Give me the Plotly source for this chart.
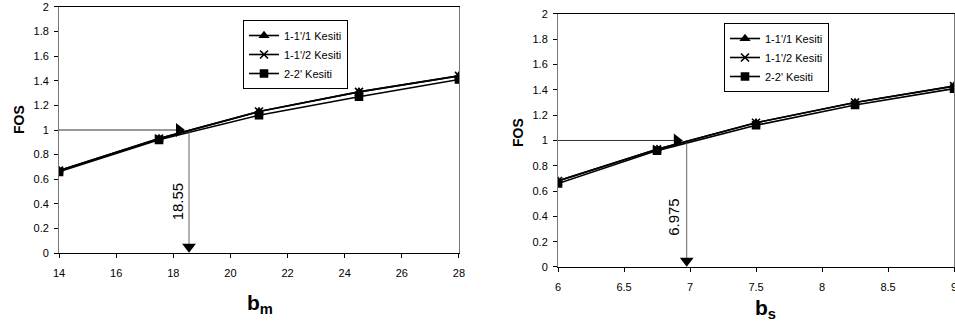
import plotly.graph_objects as go

# ---- data ----
bm = [14, 17.5, 21, 24.5, 28]
bm_s11 = [0.67, 0.93, 1.15, 1.31, 1.44]
bm_s12 = [0.67, 0.93, 1.15, 1.31, 1.44]
bm_s22 = [0.66, 0.92, 1.12, 1.27, 1.41]

bs = [6, 6.75, 7.5, 8.25, 9]
bs_s11 = [0.68, 0.93, 1.14, 1.30, 1.43]
bs_s12 = [0.68, 0.93, 1.14, 1.30, 1.43]
bs_s22 = [0.66, 0.92, 1.12, 1.28, 1.41]

names = ["1-1'/1 Kesiti", "1-1'/2 Kesiti", "2-2' Kesiti"]
symbols = ["triangle-up", "x-thin", "square"]

fos_target = 1.0
bm_cross = 18.55
bs_cross = 6.975
bm_tip = 18.2
bs_tip = 6.9

FONT = "Liberation Sans, Arial, sans-serif"

fig = go.Figure()

def add_series(xs, ys_list, xa, ya, legend):
    for name, ys, sym in zip(names, ys_list, symbols):
        fig.add_trace(go.Scatter(
            x=xs, y=ys, name=name, mode="lines+markers",
            line=dict(color="black", width=1.6),
            marker=dict(symbol=sym, size=7 if sym != "x-thin" else 8,
                        color="black", line=dict(color="black", width=1.6)),
            xaxis=xa, yaxis=ya, legend=legend))

def add_arrows(x0, cross, tip, xa, ya):
    fig.add_trace(go.Scatter(x=[x0, tip], y=[fos_target, fos_target], mode="lines",
                             line=dict(color="#333", width=1), showlegend=False,
                             xaxis=xa, yaxis=ya, hoverinfo="skip"))
    fig.add_trace(go.Scatter(x=[tip], y=[fos_target], mode="markers",
                             marker=dict(symbol="triangle-right", size=12, color="black"),
                             showlegend=False, xaxis=xa, yaxis=ya, hoverinfo="skip"))
    fig.add_trace(go.Scatter(x=[cross, cross], y=[0.98, 0.05], mode="lines",
                             line=dict(color="#666", width=1), showlegend=False,
                             xaxis=xa, yaxis=ya, hoverinfo="skip"))
    fig.add_trace(go.Scatter(x=[cross], y=[0.05], mode="markers",
                             marker=dict(symbol="triangle-down", size=12, color="black"),
                             showlegend=False, xaxis=xa, yaxis=ya, hoverinfo="skip"))

add_series(bm, [bm_s11, bm_s12, bm_s22], "x", "y", "legend")
add_series(bs, [bs_s11, bs_s12, bs_s22], "x2", "y2", "legend2")
add_arrows(bm[0], bm_cross, bm_tip, "x", "y")
add_arrows(bs[0], bs_cross, bs_tip, "x2", "y2")

tickfont = dict(family=FONT, size=11, color="black")

def xax(domain, rng, dtick, anchor):
    return dict(domain=domain, range=rng, dtick=dtick, anchor=anchor, automargin=False,
                showgrid=False, zeroline=False, showline=True, linecolor="black",
                linewidth=1, mirror=True, ticks="outside", ticklen=4,
                tickcolor="black", tickfont=tickfont, ticklabelstandoff=6,
                ticklabeloverflow="allow")

def yax(domain, anchor):
    return dict(domain=domain, range=[0, 2], dtick=0.2, anchor=anchor, automargin=False,
                showgrid=False, zeroline=False, showline=True, linecolor="#777",
                linewidth=1, mirror=True, ticks="outside", ticklen=4,
                tickcolor="black", tickfont=tickfont, tickformat="~g",
                ticklabelstandoff=3)

legend_font = dict(family=FONT, size=11, color="black")

fig.update_layout(
    width=955, height=330,
    margin=dict(l=0, r=0, t=0, b=0),
    paper_bgcolor="white", plot_bgcolor="white",
    font=dict(family=FONT, color="black"),
    xaxis=xax([0.0618, 0.4806], [14, 28], 2, "y"),
    yaxis=yax([0.2333, 0.9788], "x"),
    xaxis2=xax([0.5843, 0.999], [6, 9], 0.5, "y2"),
    yaxis2=yax([0.191, 0.9576], "x2"),
    legend=dict(x=243/955, y=1-20/330, xanchor="left", yanchor="top",
                bgcolor="white", bordercolor="black", borderwidth=1,
                font=legend_font, tracegroupgap=0),
    legend2=dict(x=724/955, y=1-23/330, xanchor="left", yanchor="top",
                 bgcolor="white", bordercolor="black", borderwidth=1,
                 font=legend_font, tracegroupgap=0),
    showlegend=True,
)

ann = []
ann.append(dict(text="<b>FOS</b>", xref="paper", yref="paper", x=19/955, y=1-120/330,
                xanchor="center", yanchor="middle",
                textangle=-90, showarrow=False, font=dict(family=FONT, size=14)))
ann.append(dict(text="<b>FOS</b>", xref="paper", yref="paper", x=518/955, y=1-133/330,
                xanchor="center", yanchor="middle",
                textangle=-90, showarrow=False, font=dict(family=FONT, size=14)))
ann.append(dict(text="<b>b<sub>m</sub></b>", xref="paper", yref="paper", x=260/955, y=1-289/330,
                xanchor="center", yanchor="top",
                showarrow=False, font=dict(family=FONT, size=21)))
ann.append(dict(text="<b>b<sub>s</sub></b>", xref="paper", yref="paper", x=765/955, y=1-294/330,
                xanchor="center", yanchor="top",
                showarrow=False, font=dict(family=FONT, size=21)))
ann.append(dict(text=f"{bm_cross:g}", xref="x", yref="y", x=18.13, y=0.42,
                xanchor="center", yanchor="middle",
                textangle=-90, showarrow=False, font=dict(family=FONT, size=15)))
ann.append(dict(text=f"{bs_cross:g}", xref="x2", yref="y2", x=6.87, y=0.395,
                xanchor="center", yanchor="middle",
                textangle=-90, showarrow=False, font=dict(family=FONT, size=15)))
fig.update_layout(annotations=ann)

fig.write_html("out.html", config={"displayModeBar": False},
               post_script="document.body.style.margin='0';document.body.style.overflow='hidden';")
